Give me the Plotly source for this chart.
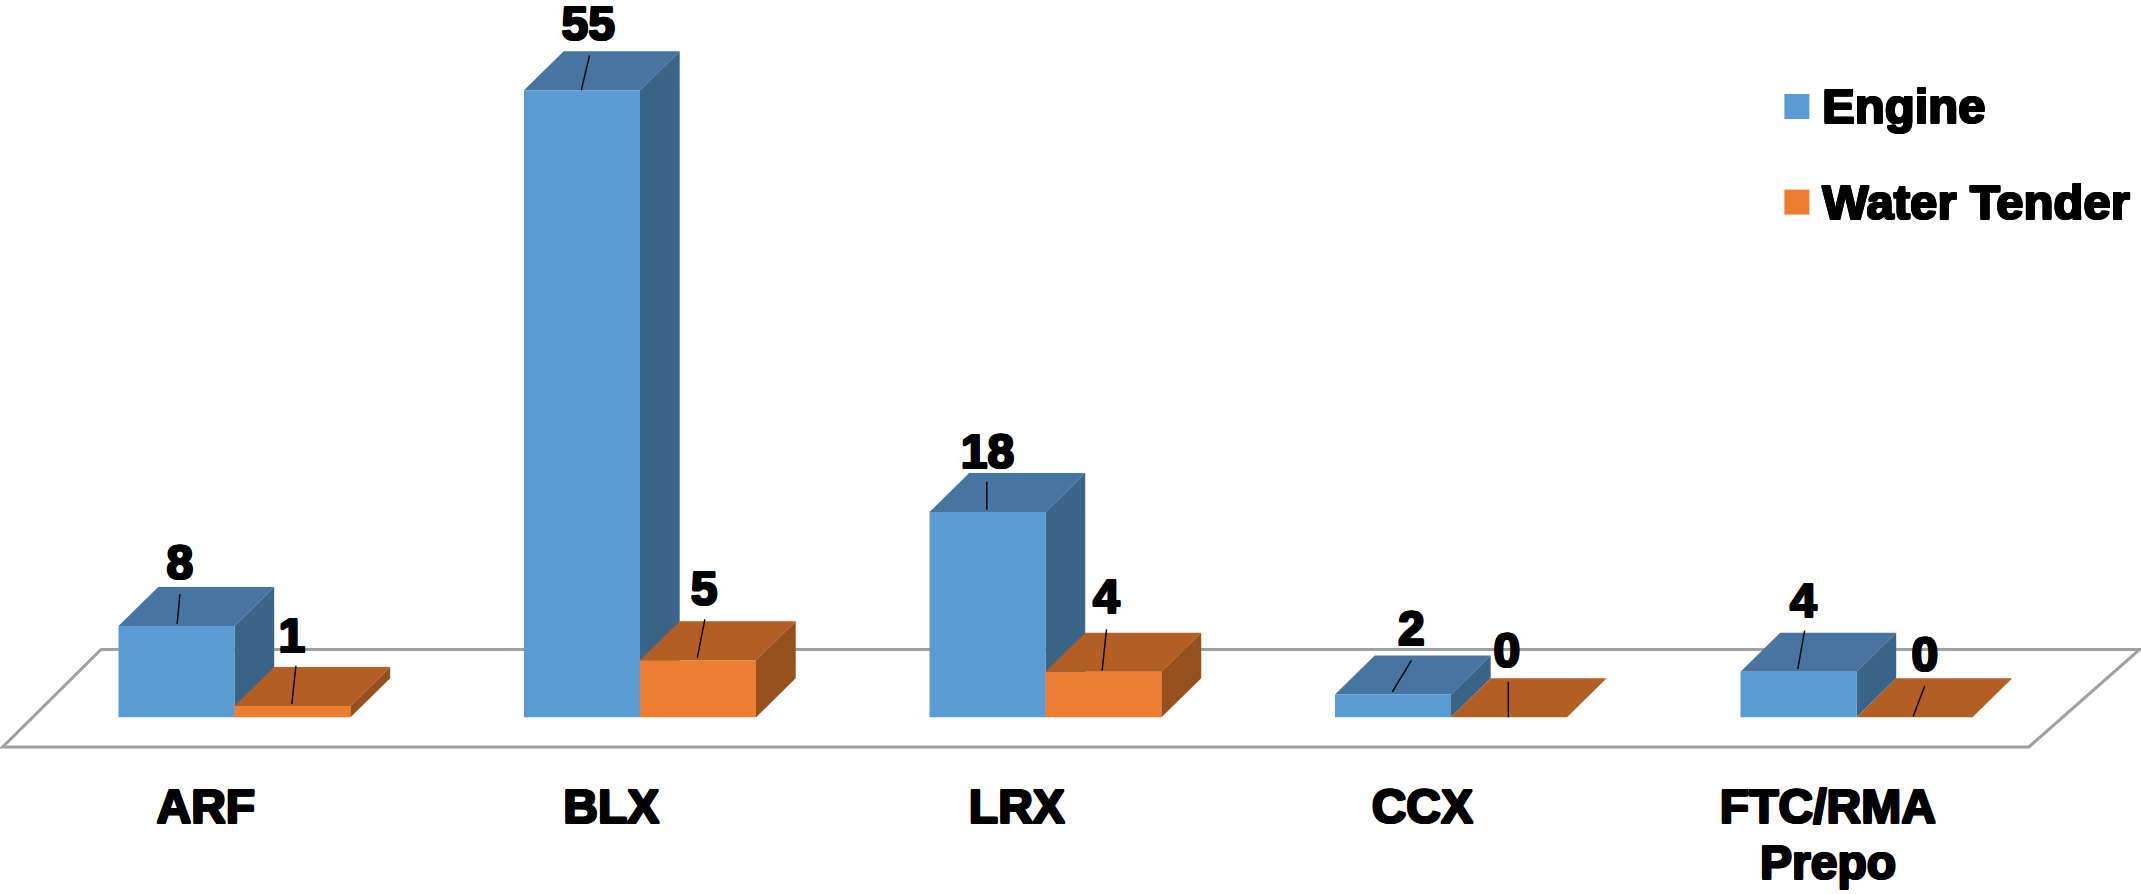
import plotly.graph_objects as go

# ---- data ----
categories = ["ARF", "BLX", "LRX", "CCX", "FTC/RMA|Prepo"]
engine = [8, 55, 18, 2, 4]
water_tender = [1, 5, 4, 0, 0]

# ---- geometry / style (pixels of the reference image) ----
W, H = 2141, 894
CAT_PX = 405.5          # category spacing
ORIGIN_PX = 234.5       # x pixel of category 0 (blue/orange boundary)
BASE_PX = 717.3         # y pixel of value 0
UNIT_PX = 11.4          # pixels per value unit
PLOT_BOTTOM = 751
BAR_W = 116 / CAT_PX
DX = 39.7 / CAT_PX      # oblique depth
DY = 39.0 / UNIT_PX
S = 1.3654              # offsets below were measured on the shrunk preview

x_range = [-ORIGIN_PX / CAT_PX, (W - ORIGIN_PX) / CAT_PX]
y_range = [(BASE_PX - PLOT_BOTTOM) / UNIT_PX, BASE_PX / UNIT_PX]

BLUE = dict(front="#5B9BD5", top="#4675A1", side="#3A6488")
ORANGE = dict(front="#ED7D31", top="#B35E22", side="#964F1D")
FONT = "Liberation Sans"
STROKE = ("1px 0 0 #000,-1px 0 0 #000,0 1px 0 #000,0 -1px 0 #000,"
          "1px 1px 0 #000,-1px -1px 0 #000,1px -1px 0 #000,-1px 1px 0 #000")
TEXT = dict(family=FONT, size=48, color="#000", weight="bold", shadow=STROKE)
LEG_TEXT = dict(family=FONT, size=49, color="#000", weight="bold", shadow=STROKE)

# offsets (shrunk px) from the middle of each bar's front top edge
blue_leader = [(0.5, -1.5, 2.5, -23.5), (-0.5, 0, 5.5, -25.5), (-0.5, -1.8, -0.5, -22.3),
               (-0.5, -2, 13.5, -25), (-0.5, -2, 4.5, -30)]
blue_label = [(2.5, -43), (4.5, -45.5), (0, -41), (13.5, -45), (3.5, -49)]
orange_leader = [(-0.5, -1.5, 2.5, -29.5), (-0.5, -2, 5, -30), (-1, -0.7, 2.2, -31),
                 (-0.5, 0, -0.5, -26), (-1, -0.5, 7.5, -23)]
orange_label = [(-0.5, -48), (4.5, -49.5), (2, -51.5), (-1.5, -45.5), (7.5, -43)]


def ox(px):
    return px * S / CAT_PX


def oy(px):
    return -px * S / UNIT_PX


def poly(xs, ys, color, z):
    return go.Scatter(x=xs + xs[:1], y=ys + ys[:1], mode="lines", fill="toself",
                      fillcolor=color, line=dict(width=0, color=color),
                      hoverinfo="skip", showlegend=False, zorder=z)


def faces(x0, v, palette, z):
    x1 = x0 + BAR_W
    top = poly([x0, x1, x1 + DX, x0 + DX], [v, v, v + DY, v + DY], palette["top"], z)
    side = poly([x1, x1 + DX, x1 + DX, x1], [0, DY, v + DY, v], palette["side"], z)
    return [top, side]


fig = go.Figure()
idx = list(range(len(categories)))

# far faces of Engine, then the front faces, then near faces of Water Tender
for i, v in zip(idx, engine):
    for t in faces(i - BAR_W, v, BLUE, 1):
        fig.add_trace(t)

fig.add_trace(go.Bar(x=idx, y=engine, name="Engine", width=BAR_W, offset=-BAR_W,
                     marker=dict(color=BLUE["front"], line_width=0), zorder=2, showlegend=False))
fig.add_trace(go.Bar(x=idx, y=water_tender, name="Water Tender", width=BAR_W, offset=0,
                     marker=dict(color=ORANGE["front"], line_width=0), zorder=2, showlegend=False))

for i, v in zip(idx, water_tender):
    for t in faces(i, v, ORANGE, 3):
        fig.add_trace(t)

# leader lines and data labels
lx, ly, tx, ty, tt = [], [], [], [], []
for values, shift, leaders, labels in (
    (engine, -BAR_W / 2, blue_leader, blue_label),
    (water_tender, BAR_W / 2, orange_leader, orange_label),
):
    for i, v, (a, b, c, d), (e, f) in zip(idx, values, leaders, labels):
        cx = i + shift
        lx += [cx + ox(a), cx + ox(c), None]
        ly += [v + oy(b), v + oy(d), None]
        tx.append(cx + ox(e))
        ty.append(v + oy(f))
        tt.append(str(v))

fig.add_trace(go.Scatter(x=lx, y=ly, mode="lines", line=dict(color="#000", width=1.4),
                         hoverinfo="skip", showlegend=False, zorder=4))
fig.add_trace(go.Scatter(x=tx, y=ty, mode="text", text=tt, textposition="middle center",
                         textfont=TEXT, hoverinfo="skip", showlegend=False, zorder=5,
                         cliponaxis=False))

# legend
leg_names = ["Engine", "Water Tender"]
leg_colors = [BLUE["front"], ORANGE["front"]]
leg_key_x = (1316 * S - ORIGIN_PX) / CAT_PX
leg_text_x = (1334.5 * S - ORIGIN_PX) / CAT_PX
leg_y = [(BASE_PX - 78 * S) / UNIT_PX, (BASE_PX - 148 * S) / UNIT_PX]
leg_text_y = [(BASE_PX - 81 * S) / UNIT_PX, (BASE_PX - 151.5 * S) / UNIT_PX]
fig.add_trace(go.Scatter(x=[leg_key_x] * 2, y=leg_y, mode="markers",
                         marker=dict(symbol="square", size=25, color=leg_colors, line_width=0),
                         hoverinfo="skip", showlegend=False, zorder=5))
fig.add_trace(go.Scatter(x=[leg_text_x] * 2, y=leg_text_y, mode="text", text=leg_names,
                         textposition="middle right", textfont=LEG_TEXT,
                         hoverinfo="skip", showlegend=False, zorder=5))

# floor
floor_dy = (BASE_PX - 649.5) / UNIT_PX
floor_front = (BASE_PX - 747) / UNIT_PX
fl, fr = (2 * S - ORIGIN_PX) / CAT_PX, (1486 * S - ORIGIN_PX) / CAT_PX
skew = 72 * S / CAT_PX
fig.add_shape(type="path", layer="below", xref="x", yref="y",
              path=f"M {fl} {floor_front} L {fr} {floor_front} L {fr + skew * 1.125} {floor_dy} "
                   f"L {fl + skew} {floor_dy} Z",
              line=dict(color="#A0A0A0", width=3), fillcolor="rgba(255,255,255,0)")

# category labels: first line on the axis, a wrapped second line placed beneath it
tickvals = [i - 21 * S / CAT_PX for i in idx]
first_lines = [c.split("|")[0] for c in categories]
for tv, c in zip(tickvals, categories):
    parts = c.split("|")
    if len(parts) > 1:
        fig.add_annotation(x=tv, xref="x", y=(PLOT_BOTTOM - 632 * S) / PLOT_BOTTOM, yref="paper",
                           text=parts[1], showarrow=False, font=TEXT,
                           xanchor="center", yanchor="middle")

fig.update_layout(
    width=W, height=H, autosize=False, showlegend=False,
    margin=dict(l=0, r=0, t=0, b=H - PLOT_BOTTOM, pad=0),
    paper_bgcolor="#fff", plot_bgcolor="#fff", barmode="overlay",
    xaxis=dict(range=x_range, tickmode="array", automargin=False,
               tickvals=tickvals, ticktext=first_lines,
               ticks="outside", ticklen=13, tickcolor="rgba(0,0,0,0)", tickwidth=0,
               tickfont=TEXT, showgrid=False, zeroline=False, showline=False, tickangle=0,
               fixedrange=True),
    yaxis=dict(range=y_range, visible=False, fixedrange=True, automargin=False),
)

fig.write_html("out.html", post_script="document.body.style.margin='0';document.body.style.overflow='hidden';",
               config=dict(displayModeBar=False))
